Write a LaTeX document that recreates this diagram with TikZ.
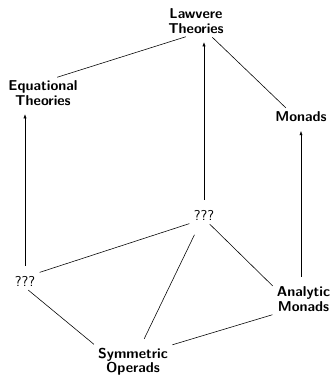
\documentclass[tikz,border=0pt]{standalone}
\usepackage{tikz}
\usetikzlibrary{arrows.meta,positioning}
\tikzset{
  % Theory node: bold sans label, no frame
  tbox/.style={align=center, inner sep=2pt,
               font=\sffamily\bfseries\fontsize{10pt}{10pt}\selectfont},
  % Unknown corner: plain sans
  tbox-q/.style={tbox, font=\sffamily\fontsize{10pt}{10pt}\selectfont},
  % Connectors
  link/.style={line width=0.4pt, shorten <=1pt, shorten >=1pt},
  uparr/.style={-{Latex[length=3pt,width=2.2pt]}, line width=0.4pt,
                shorten <=5pt, shorten >=4pt}
}
\begin{document}
\begin{tikzpicture}[on grid]

\useasboundingbox (-137.2pt,14.7pt) rectangle (95.9pt,-249.2pt);

% ============== TOP FACE ==============
\node[tbox] (lawvere) {Lawvere\\Theories};
\node[tbox, below left=50.4pt and 107.1pt of lawvere] (equational) {Equational\\Theories};
\node[tbox, below right=67.2pt and 73.5pt of lawvere] (monads) {Monads};

\draw[link] (equational.50) -- (lawvere.240);
\draw[link] (lawvere.-45) -- (monads.150);

% ============== BOTTOM FACE ==============
\node[tbox-q, below right=135.8pt and 5.6pt of lawvere] (qtop) {???};
\node[tbox-q, below left=131.6pt and 12.6pt of equational] (qleft) {???};
\node[tbox, below right=127.4pt and 1.75pt of monads] (analytic) {Analytic\\Monads};
\node[tbox, below right=56.7pt and 75.6pt of qleft] (operads) {Symmetric\\Operads};

\draw[link] (qleft.north east) -- (qtop.south west);
\draw[link] (qtop.-60) -- (analytic.158);
\draw[link, shorten <=9pt, shorten >=5pt] (qtop) -- (operads);
\draw[link] (qleft.-75) -- (operads.north west);
\draw[link] (operads.north east) -- (analytic.south west);

% ============== VERTICAL EDGES ==============
\draw[uparr] (qtop.north) -- (qtop.north |- lawvere.south);
\draw[uparr] (qleft.north) -- (qleft.north |- equational.south);
\draw[uparr] (monads.south |- analytic.north) -- (monads.south);

\end{tikzpicture}
\end{document}
